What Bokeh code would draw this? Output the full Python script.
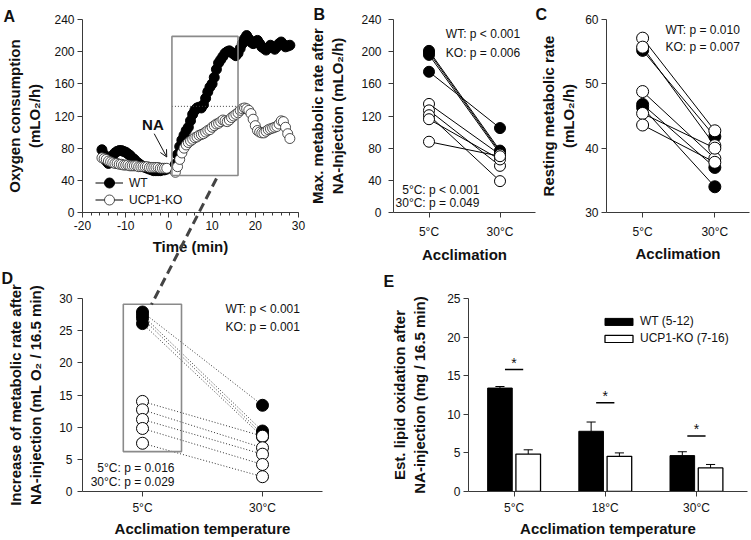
from bokeh.plotting import figure
from bokeh.layouts import row, column
from bokeh.models import (Range1d, FixedTicker, Label, Arrow, OpenHead, Legend,
                          LegendItem, BoxAnnotation)
from bokeh.core.properties import value
from bokeh.embed import file_html
from bokeh.resources import INLINE

FONT = "Liberation Sans"
AX = "#3a3a3a"

# ---------------- Panel A: oxygen consumption time course ----------------
a_time_pre = [-15.5, -15.0, -14.5, -14.0, -13.5, -13.0, -12.5, -12.0, -11.5, -11.0,
              -10.5, -10.0, -9.5, -9.0, -8.5, -8.0, -7.5, -7.0, -6.5, -6.0,
              -5.5, -5.0, -4.5, -4.0, -3.5, -3.0, -2.5, -2.0, -1.5, -1.0, -0.5]
a_wt_pre = [78, 72, 64, 61, 66, 71, 74, 76, 77, 77,
            76, 75, 73, 71, 68, 66, 63, 61, 59, 57,
            56, 55, 54, 53, 52, 52, 52, 52, 53, 53, 54]
a_ko_pre = [68, 67, 66, 64, 63, 62, 61, 61, 60, 60,
            59, 59, 59, 58, 58, 58, 58, 57, 57, 57,
            57, 57, 56, 56, 56, 56, 56, 55, 55, 55, 55]
a_time_post = [1.5, 2.0, 2.5, 3.0, 3.5, 4.0, 4.5, 5.0, 5.5, 6.0,
               6.5, 7.0, 7.5, 8.0, 8.5, 9.0, 9.5, 10.0, 10.5, 11.0,
               11.5, 12.0, 12.5, 13.0, 13.5, 14.0, 14.5, 15.0, 15.5, 16.0,
               16.5, 17.0, 17.5, 18.0, 18.5, 19.0, 19.5, 20.0, 20.5, 21.0,
               21.5, 22.0, 22.5, 23.0, 23.5, 24.0, 24.5, 25.0, 25.5, 26.0,
               26.5, 27.0, 27.5, 28.0]
a_wt_post = [60, 72, 82, 90, 96, 102, 106, 114, 122, 127,
             130, 131, 130, 134, 142, 150, 156, 160, 168, 178,
             186, 190, 194, 198, 200, 201, 199, 197, 195, 198,
             204, 210, 216, 220, 216, 212, 210, 212, 214, 210,
             206, 204, 202, 205, 208, 206, 203, 206, 210, 212,
             209, 206, 207, 208]
a_ko_post = [50, 57, 66, 74, 80, 84, 87, 89, 91, 93,
             94, 96, 97, 98, 100, 102, 103, 106, 108, 110,
             111, 113, 115, 114, 113, 115, 118, 120, 122, 124,
             127, 129, 130, 129, 127, 123, 116, 108, 102, 100,
             99, 99, 101, 103, 104, 105, 106, 107, 110, 114,
             113, 106, 98, 92]
a_ko_peak = 132
a_x_ticks = [-20, -10, 0, 10, 20, 30]
a_x_labels = ["-20", "-10", "0", "10", "20", "30"]
a_y_ticks = [0, 40, 80, 120, 160, 200, 240]

# ---------------- Panels B-D: paired acclimation data ----------------
acclim_labels = ["5°C", "30°C"]
acclim_pos = [1, 2]

b_wt_5 = [201, 199, 196, 175]
b_wt_30 = [77, 75, 73, 105]
b_ko_5 = [135, 127, 121, 116, 88]
b_ko_30 = [72, 58, 39, 66, 70]

c_wt_5 = [55.2, 46.8, 46.3]
c_wt_30 = [41.8, 37.0, 34.0]
c_ko_5 = [57.1, 55.7, 48.8, 45.4, 43.6]
c_ko_30 = [42.7, 40.4, 38.4, 40.0, 37.8]

d_wt_5 = [27.9, 27.4, 26.9, 26.1]
d_wt_30 = [13.4, 9.4, 8.9, 8.5]
d_ko_5 = [14.0, 12.7, 11.2, 9.8, 7.5]
d_ko_30 = [8.6, 6.8, 5.8, 4.2, 2.3]

# ---------------- Panel E: lipid oxidation bars ----------------
e_temps = ["5°C", "18°C", "30°C"]
e_pos = [1, 2, 3]
e_wt = [13.4, 7.8, 4.65]
e_wt_err = [0.2, 1.2, 0.5]
e_ko = [4.85, 4.55, 3.05]
e_ko_err = [0.55, 0.45, 0.45]
e_sig_y = [15.8, 11.5, 7.2]


def base(width, height, xr, yr, bl, br, bt, bb):
    p = figure(width=width, height=height, x_range=Range1d(*xr), y_range=Range1d(*yr),
               output_backend="svg", toolbar_location=None, title=None,
               min_border_left=bl, min_border_right=br,
               min_border_top=bt, min_border_bottom=bb)
    p.outline_line_color = None
    p.xgrid.visible = False
    p.ygrid.visible = False
    p.background_fill_color = "white"
    p.border_fill_color = "white"
    for ax in (p.xaxis[0], p.yaxis[0]):
        ax.axis_line_color = AX
        ax.major_tick_line_color = AX
        ax.minor_tick_line_color = None
        ax.major_tick_in = 0
        ax.major_tick_out = 5
        ax.major_label_text_font = FONT
        ax.major_label_text_font_size = "12px"
        ax.major_label_text_color = "#111111"
        ax.axis_label_text_font = FONT
        ax.axis_label_text_font_size = "15px"
        ax.axis_label_text_font_style = "bold"
        ax.axis_label_text_color = "#111111"
    return p


def txt(p, x, y, s, align="left", size="12px", bold=False, baseline="middle"):
    p.add_layout(Label(x=x, y=y, text=s, text_align=align, text_baseline=baseline,
                       text_font=FONT, text_font_size=size,
                       text_font_style="bold" if bold else "normal",
                       text_color="#111111"))


def cat_axis(p, labels, pos):
    p.xaxis.ticker = FixedTicker(ticks=pos)
    p.xaxis.major_label_overrides = {k: v for k, v in zip(pos, labels)}


def leg(items, loc, **kw):
    opts = dict(location=loc, padding=0, margin=0, border_line_alpha=0,
                background_fill_alpha=0, label_text_font=FONT,
                label_text_font_size="12px", label_text_color="#111111")
    opts.update(kw)
    return Legend(items=items, **opts)


TOP_H = 270
BOT_H = 269

# ================= Panel A =================
pA = base(306, TOP_H, (-20, 30), (0, 240), 82, 8, 18, 58)
pA.xaxis.ticker = FixedTicker(ticks=a_x_ticks, minor_ticks=list(range(-20, 31, 2)))
pA.xaxis.major_label_overrides = {k: v for k, v in zip(a_x_ticks, a_x_labels)}
pA.xaxis.minor_tick_line_color = AX
pA.xaxis.minor_tick_out = 3
pA.xaxis.minor_tick_in = 0
pA.yaxis.ticker = FixedTicker(ticks=a_y_ticks)
pA.xaxis.axis_label = "Time (min)"
pA.yaxis.axis_label = "Oxygen consumption\n(mLO₂/h)"
pA.xaxis.major_label_standoff = 3
pA.xaxis.axis_label_standoff = 5
pA.yaxis.major_label_standoff = 3
pA.yaxis.axis_label_standoff = 8

wt1 = pA.scatter(a_time_pre, a_wt_pre, size=10, fill_color="black", line_color="black")
pA.scatter(a_time_pre, a_ko_pre, size=10, fill_color="white", line_color="#222222", line_width=0.8)
pA.scatter(a_time_post, a_wt_post, size=10, fill_color="black", line_color="black")
ko1 = pA.scatter(a_time_post, a_ko_post, size=10, fill_color="white", line_color="#222222", line_width=0.8)
lineA_wt = pA.line(a_time_pre, a_wt_pre, line_color="black", line_width=1, visible=False)
lineA_ko = pA.line(a_time_pre, a_ko_pre, line_color="black", line_width=1, visible=False)

pA.add_layout(BoxAnnotation(left=0.7, right=16, bottom=46, top=219, fill_alpha=0,
                            line_color="#8a8a8a", line_width=1.6, line_alpha=1))
pA.segment(x0=[0.7], y0=[a_ko_peak], x1=[17.0], y1=[a_ko_peak],
           line_color="#444444", line_dash="1 2", line_width=1)
pA.add_layout(Arrow(end=OpenHead(size=7, line_width=1, line_color="#111111"),
                    x_start=-3.4, y_start=98, x_end=-0.5, y_end=69,
                    line_width=1, line_color="#111111"))
txt(pA, -3.7, 109, "NA", align="center", size="15px", bold=True)

pA.add_layout(leg([LegendItem(label="WT", renderers=[lineA_wt, wt1])], (13, 17),
                  glyph_width=28, glyph_height=25, label_standoff=6))
pA.add_layout(leg([LegendItem(label="UCP1-KO", renderers=[lineA_ko, ko1])], (13, 0),
                  glyph_width=28, glyph_height=25, label_standoff=6))

# ================= Panel B =================
pB = base(230, TOP_H, (0.5, 2.5), (0, 240), 77, 1, 19, 57)
pB.yaxis.ticker = FixedTicker(ticks=a_y_ticks)
cat_axis(pB, acclim_labels, acclim_pos)
pB.xaxis.axis_label = "Acclimation"
pB.yaxis.axis_label = "Max. metabolic rate after\nNA-Injection (mLO₂/h)"
pB.xaxis.major_label_standoff = 7
pB.xaxis.axis_label_standoff = 4
pB.yaxis.major_label_standoff = 7
pB.yaxis.axis_label_standoff = 12
pB.multi_line(xs=[acclim_pos] * len(b_wt_5), ys=[[a, b] for a, b in zip(b_wt_5, b_wt_30)],
              line_color="black", line_width=1)
pB.multi_line(xs=[acclim_pos] * len(b_ko_5), ys=[[a, b] for a, b in zip(b_ko_5, b_ko_30)],
              line_color="black", line_width=1)
pB.scatter([acclim_pos[0]] * len(b_wt_5), b_wt_5, size=11, fill_color="black", line_color="black")
pB.scatter([acclim_pos[1]] * len(b_wt_30), b_wt_30, size=11, fill_color="black", line_color="black")
pB.scatter([acclim_pos[0]] * len(b_ko_5), b_ko_5, size=11, fill_color="white", line_color="black")
pB.scatter([acclim_pos[1]] * len(b_ko_30), b_ko_30, size=11, fill_color="white", line_color="black")
txt(pB, 1.237, 221.5, "WT: p < 0.001")
txt(pB, 1.237, 198, "KO: p = 0.006")
txt(pB, 1.71, 28.5, "5°C: p < 0.001", align="right")
txt(pB, 1.71, 12.4, "30°C: p = 0.049", align="right")

# ================= Panel C =================
pC = base(214, TOP_H, (0.5, 2.48), (30, 60), 62, 1, 17, 58)
pC.yaxis.ticker = FixedTicker(ticks=[30, 40, 50, 60])
cat_axis(pC, acclim_labels, acclim_pos)
pC.xaxis.axis_label = "Acclimation"
pC.yaxis.axis_label = "Resting metabolic rate\n(mLO₂/h)"
pC.xaxis.major_label_standoff = 7
pC.xaxis.axis_label_standoff = 3
pC.yaxis.major_label_standoff = 3
pC.yaxis.axis_label_standoff = 5
pC.multi_line(xs=[acclim_pos] * len(c_wt_5), ys=[[a, b] for a, b in zip(c_wt_5, c_wt_30)],
              line_color="black", line_width=1)
pC.multi_line(xs=[acclim_pos] * len(c_ko_5), ys=[[a, b] for a, b in zip(c_ko_5, c_ko_30)],
              line_color="black", line_width=1)
pC.scatter([acclim_pos[0]] * len(c_wt_5), c_wt_5, size=12, fill_color="black", line_color="black")
pC.scatter([acclim_pos[1]] * len(c_wt_30), c_wt_30, size=12, fill_color="black", line_color="black")
pC.scatter([acclim_pos[0]] * len(c_ko_5), c_ko_5, size=12, fill_color="white", line_color="black")
pC.scatter([acclim_pos[1]] * len(c_ko_30), c_ko_30, size=12, fill_color="white", line_color="black")
txt(pC, 1.316, 58.3, "WT: p = 0.010")
txt(pC, 1.316, 55.7, "KO: p = 0.007")

# ================= Panel D =================
pD = base(375, BOT_H, (0.5, 2.5), (0, 30), 82, 53, 28, 47)
pD.yaxis.ticker = FixedTicker(ticks=[0, 5, 10, 15, 20, 25, 30])
cat_axis(pD, acclim_labels, acclim_pos)
pD.xaxis.axis_label = "Acclimation temperature"
pD.yaxis.axis_label = "Increase of metabolic rate after\nNA-injection (mL O₂ / 16.5 min)"
pD.xaxis.major_label_standoff = 4
pD.xaxis.axis_label_standoff = 2
pD.yaxis.major_label_standoff = 5
pD.yaxis.axis_label_standoff = 12
pD.multi_line(xs=[acclim_pos] * len(d_wt_5), ys=[[a, b] for a, b in zip(d_wt_5, d_wt_30)],
              line_color="#333333", line_width=1, line_dash="1 2")
pD.multi_line(xs=[acclim_pos] * len(d_ko_5), ys=[[a, b] for a, b in zip(d_ko_5, d_ko_30)],
              line_color="#333333", line_width=1, line_dash="1 2")
pD.scatter([acclim_pos[0]] * len(d_wt_5), d_wt_5, size=12, fill_color="black", line_color="black")
pD.scatter([acclim_pos[1]] * len(d_wt_30), d_wt_30, size=12, fill_color="black", line_color="black")
pD.scatter([acclim_pos[0]] * len(d_ko_5), d_ko_5, size=12, fill_color="white", line_color="black")
pD.scatter([acclim_pos[1]] * len(d_ko_30), d_ko_30, size=12, fill_color="white", line_color="black")
pD.add_layout(BoxAnnotation(left=0.84, right=1.325, bottom=6.2, top=29.1, fill_alpha=0,
                            line_color="#8a8a8a", line_width=1.6, line_alpha=1))
txt(pD, 1.692, 28.3, "WT: p < 0.001")
txt(pD, 1.692, 25.5, "KO: p = 0.001")
txt(pD, 1.267, 3.6, "5°C: p = 0.016", align="right")
txt(pD, 1.267, 1.4, "30°C: p = 0.029", align="right")

# ================= Panel E =================
pE = base(375, BOT_H, (0.5, 3.56), (0, 25), 93, 3, 28, 47)
pE.yaxis.ticker = FixedTicker(ticks=[0, 5, 10, 15, 20, 25])
cat_axis(pE, e_temps, e_pos)
pE.xaxis.axis_label = "Acclimation temperature"
pE.yaxis.axis_label = "Est. lipid oxidation after\nNA-injection (mg / 16.5 min)"
pE.xaxis.major_label_standoff = 4
pE.xaxis.axis_label_standoff = 2
pE.yaxis.major_label_standoff = 3
pE.yaxis.axis_label_standoff = 16
wt_x = [x - 0.155 for x in e_pos]
ko_x = [x + 0.155 for x in e_pos]
cap = 0.05
wt_hi = [v + e for v, e in zip(e_wt, e_wt_err)]
ko_hi = [v + e for v, e in zip(e_ko, e_ko_err)]
pE.segment(x0=wt_x, y0=e_wt, x1=wt_x, y1=wt_hi, line_color="black", line_width=1)
pE.segment(x0=[x - cap for x in wt_x], y0=wt_hi, x1=[x + cap for x in wt_x], y1=wt_hi,
           line_color="black", line_width=1)
pE.segment(x0=ko_x, y0=e_ko, x1=ko_x, y1=ko_hi, line_color="black", line_width=1)
pE.segment(x0=[x - cap for x in ko_x], y0=ko_hi, x1=[x + cap for x in ko_x], y1=ko_hi,
           line_color="black", line_width=1)
wt_bars = pE.vbar(x=wt_x, top=e_wt, width=0.27, bottom=0, fill_color="black", line_color="black")
ko_bars = pE.vbar(x=ko_x, top=e_ko, width=0.27, bottom=0, fill_color="white",
                  line_color="black", line_width=1.3)
pE.segment(x0=[x - 0.1 for x in e_pos], y0=e_sig_y, x1=[x + 0.1 for x in e_pos], y1=e_sig_y,
           line_color="black", line_width=1.5)
pE.text(x=e_pos, y=[s + 0.9 for s in e_sig_y], text=["*"] * len(e_pos), text_align="center",
        text_baseline="middle", text_font=value(FONT), text_font_size="14px", text_color="#111111")
pE.add_layout(leg([LegendItem(label="WT (5-12)", renderers=[wt_bars]),
                   LegendItem(label="UCP1-KO (7-16)", renderers=[ko_bars])],
                  (133, 146), glyph_width=35, glyph_height=9, label_height=14, spacing=3,
                  label_standoff=4))

# ================= overlay: panel letters and zoom connector =================
ov = figure(width=750, height=539, x_range=Range1d(0, 750), y_range=Range1d(539, 0),
            x_axis_type=None, y_axis_type=None, min_border=0, toolbar_location=None,
            output_backend="svg", title=None, background_fill_color=None,
            border_fill_color=None, outline_line_color=None, margin=(-539, 0, 0, 0))
ov.grid.visible = False
ov.add_layout(Arrow(end=None, x_start=216, y_start=178, x_end=151, y_end=304,
                    line_dash="9 5", line_width=3, line_color="#444444"))
for s, lx, ly in [("A", 3, 16), ("B", 313, 14), ("C", 535, 14), ("D", 1, 278), ("E", 383, 281)]:
    ov.add_layout(Label(x=lx, y=ly, text=s, text_align="left", text_baseline="alphabetic",
                        text_font=FONT, text_font_size="16px", text_font_style="bold",
                        text_color="#111111"))

layout = column(row(pA, pB, pC), row(pD, pE), ov)
open("out.html", "w").write(file_html(layout, INLINE))
